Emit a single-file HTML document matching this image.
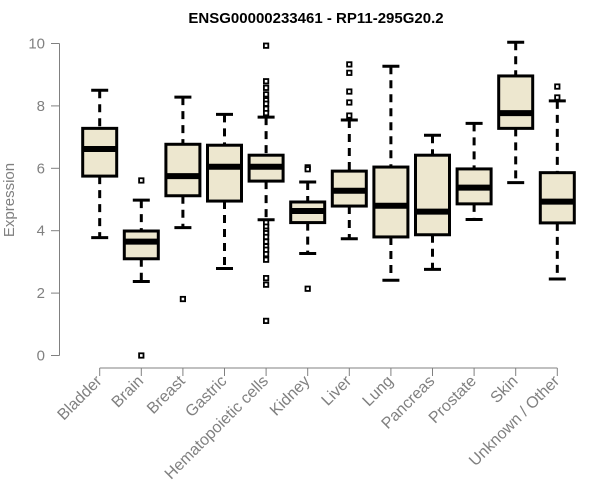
<!DOCTYPE html>
<html><head><meta charset="utf-8"><style>
html,body{margin:0;padding:0;background:#fff;}
svg{display:block;font-family:"Liberation Sans",Arial,sans-serif;}
</style></head><body>
<svg id="chart" width="600" height="500" viewBox="0 0 600 500">
<text x="316" y="23" text-anchor="middle" font-size="15" font-weight="bold" fill="#000">ENSG00000233461 - RP11-295G20.2</text>
<text transform="translate(14,200) rotate(-90)" text-anchor="middle" font-size="15" fill="#808080">Expression</text>
<g id="axes"></g>
<g id="boxes"></g>
</svg>
<script>
const categories=["Bladder","Brain","Breast","Gastric","Hematopoietic cells","Kidney","Liver","Lung","Pancreas","Prostate","Skin","Unknown / Other"];
const whiskerLow=[3.78,2.37,4.10,2.79,4.35,3.27,3.74,2.41,2.76,4.36,5.54,2.45];
const q1=[5.75,3.10,5.12,4.95,5.59,4.26,4.79,3.80,3.87,4.86,7.28,4.25];
const medians=[6.62,3.65,5.75,6.05,6.05,4.63,5.28,4.80,4.61,5.38,7.77,4.93];
const q3=[7.28,3.99,6.77,6.74,6.42,4.92,5.91,6.04,6.42,5.98,8.96,5.86];
const whiskerHigh=[8.50,4.98,8.28,7.73,7.64,5.56,7.55,9.27,7.06,7.44,10.04,8.16];
const outliers=[[],[5.61,0],[1.81],[],[9.93,8.79,8.58,8.37,8.18,8.07,7.91,7.77,4.26,4.13,4.0,3.92,3.8,3.65,3.5,3.39,3.25,3.07,2.48,2.27,1.11],[6.03,5.97,2.14],[9.33,9.06,8.46,8.11,7.69],[],[],[],[],[8.62,8.27]];
const yTicks=[0,2,4,6,8,10];

const NS="http://www.w3.org/2000/svg";
const yS=v=>355.5-v*31.2;
const xS=i=>99.7+i*41.6;
function mk(tag,attrs,parent){const e=document.createElementNS(NS,tag);for(const k in attrs)e.setAttribute(k,attrs[k]);parent.appendChild(e);return e;}
const axes=document.getElementById('axes'), boxes=document.getElementById('boxes');
const gray="#808080";
let yl=mk('line',{x1:59.5,x2:59.5,y1:yS(0),y2:yS(10),stroke:gray,'stroke-width':1},axes);


yTicks.forEach(t=>{
  const l=mk('line',{x1:51,x2:59.5,y1:yS(t),y2:yS(t),stroke:gray},axes);
  
  
  const tx=mk('text',{x:45,y:yS(t)+5,'text-anchor':'end','font-size':15,fill:gray},axes);
  tx.textContent=t;
  
  
});
let xl=mk('line',{x1:xS(0),x2:xS(categories.length-1),y1:368,y2:368,stroke:gray},axes);


categories.forEach((c,i)=>{
  const x=xS(i);
  const t=mk('line',{x1:x,x2:x,y1:368,y2:376,stroke:gray},axes);
  
  
  const tx=mk('text',{transform:`translate(${x+3},${382}) rotate(-45)`,'text-anchor':'end','font-size':16,fill:gray},axes);
  tx.textContent=c;
  
  

  const g=mk('g',{},boxes);
  
  
  const hw=17;
  mk('line',{x1:x,x2:x,y1:yS(whiskerHigh[i]),y2:yS(q3[i]),stroke:'#000','stroke-width':3,'stroke-dasharray':'8,6'},g);
  mk('line',{x1:x,x2:x,y1:yS(q1[i]),y2:yS(whiskerLow[i]),stroke:'#000','stroke-width':3,'stroke-dasharray':'8,6'},g);
  mk('line',{x1:x-8.5,x2:x+8.5,y1:yS(whiskerHigh[i]),y2:yS(whiskerHigh[i]),stroke:'#000','stroke-width':3},g);
  mk('line',{x1:x-8.5,x2:x+8.5,y1:yS(whiskerLow[i]),y2:yS(whiskerLow[i]),stroke:'#000','stroke-width':3},g);
  mk('rect',{x:x-hw,y:yS(q3[i]),width:hw*2,height:yS(q1[i])-yS(q3[i]),fill:'#ede7cf',stroke:'#000','stroke-width':3},g);
  mk('line',{x1:x-hw,x2:x+hw,y1:yS(medians[i]),y2:yS(medians[i]),stroke:'#000','stroke-width':6},g);
  outliers[i].forEach(o=>{
    const r=mk('rect',{x:x-2.2,y:yS(o)-2.2,width:4.4,height:4.4,fill:'#fff',stroke:'#000','stroke-width':1.8},g);
    
    
  });
});
</script>
</body></html>
